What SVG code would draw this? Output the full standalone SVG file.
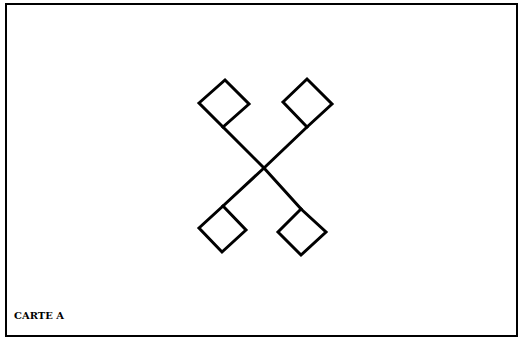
<svg xmlns="http://www.w3.org/2000/svg" width="518" height="338" viewBox="0 0 518 338">
<style>
.s{fill:none;stroke:#000;stroke-width:3;stroke-linejoin:miter;stroke-linecap:square}
.f{fill:none;stroke:#000;stroke-width:2}
.t{font-family:"DejaVu Serif","Liberation Serif",serif;font-weight:bold;font-size:10px;fill:#000}
</style>
<rect width="518" height="338" fill="#fff"/>
<rect class="f" x="6" y="4" width="511" height="332"/>
<g id="connectors">
<path class="s" d="M223,127 L264,168 L301,209"/>
<path class="s" d="M307,127 L264,168 L223,206"/>
</g>
<g id="diamond-tl"><path class="s" d="M199,103 L225,80 L249,104 L223,127 Z"/></g>
<g id="diamond-tr"><path class="s" d="M283,102 L307,79 L332,104 L307,127 Z"/></g>
<g id="diamond-bl"><path class="s" d="M223,206 L246,230 L222,252 L199,228 Z"/></g>
<g id="diamond-br"><path class="s" d="M301,209 L326,232 L301,255 L278,232 Z"/></g>
<text class="t" x="14" y="319" textLength="50" lengthAdjust="spacingAndGlyphs">CARTE A</text>
</svg>
